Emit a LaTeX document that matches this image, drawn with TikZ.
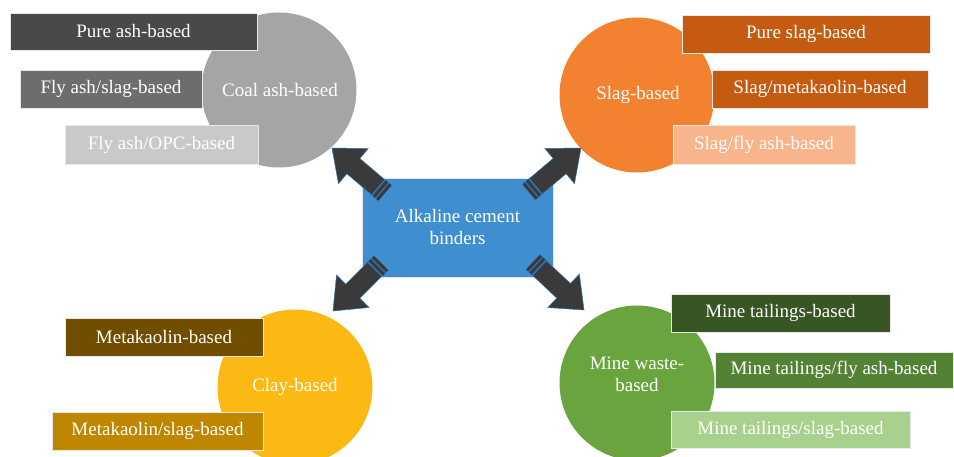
\documentclass[tikz,border=0pt]{standalone}
\usepackage{fontspec}
\setmainfont{Liberation Serif}
\usetikzlibrary{calc}
\definecolor{coalc}{HTML}{A5A5A5}
\definecolor{coalA}{HTML}{494949}
\definecolor{coalB}{HTML}{6D6D6D}
\definecolor{coalC}{HTML}{C9C9C9}
\definecolor{slagc}{HTML}{F28130}
\definecolor{slagA}{HTML}{C55A11}
\definecolor{slagC}{HTML}{F8B48A}
\definecolor{clayc}{HTML}{FDB913}
\definecolor{clayA}{HTML}{714D00}
\definecolor{clayB}{HTML}{BF8600}
\definecolor{minec}{HTML}{6AA43F}
\definecolor{mineA}{HTML}{375623}
\definecolor{mineB}{HTML}{548235}
\definecolor{mineC}{HTML}{A9D18E}
\definecolor{hubblue}{HTML}{3E8ED0}
\definecolor{arrowgray}{HTML}{3A3A3A}
\definecolor{arrowedge}{HTML}{2E75B6}
\tikzset{
  lbl/.style={rectangle, draw=white!82!gray, line width=0.6pt, text=white,
    inner sep=0pt, font=\fontsize{19}{22}\selectfont},
  hub/.style={circle, inner sep=0pt, minimum size=155pt, text=white, align=center,
    font=\fontsize{19}{22}\selectfont},
  arrowbody/.style={fill=arrowgray, draw=arrowedge, line width=0.5pt},
  gapfill/.style={fill=arrowedge},
}
\newcommand{\fatarrow}[2]{%
  \coordinate (sa0) at (#1);
  \coordinate (sa1) at (#2);
  \coordinate (hb) at ($(sa1)!28pt!(sa0)$);
  \coordinate (s0) at ($(sa0)!9pt!(sa1)$);
  \coordinate (g1) at ($(sa0)!3pt!(sa1)$);
  \coordinate (g2) at ($(sa0)!4.5pt!(sa1)$);
  \coordinate (g3) at ($(sa0)!7.5pt!(sa1)$);
  \fill[gapfill] ($(sa0)!10.5pt!90:(sa1)$) -- ($(s0)!10.5pt!90:(sa1)$) --
    ($(s0)!10.5pt!-90:(sa1)$) -- ($(sa0)!10.5pt!-90:(sa1)$) -- cycle;
  \fill[arrowgray] ($(sa0)!10pt!90:(sa1)$) -- ($(g1)!10pt!90:(sa1)$) --
    ($(g1)!10pt!-90:(sa1)$) -- ($(sa0)!10pt!-90:(sa1)$) -- cycle;
  \fill[arrowgray] ($(g2)!10pt!90:(sa1)$) -- ($(g3)!10pt!90:(sa1)$) --
    ($(g3)!10pt!-90:(sa1)$) -- ($(g2)!10pt!-90:(sa1)$) -- cycle;
  \filldraw[arrowbody] ($(s0)!10pt!90:(sa1)$) -- ($(hb)!10pt!90:(sa1)$) --
    ($(hb)!23pt!90:(sa1)$) -- (sa1) -- ($(hb)!23pt!-90:(sa1)$) --
    ($(hb)!10pt!-90:(sa1)$) -- ($(s0)!10pt!-90:(sa1)$) -- cycle;
}
\begin{document}
\begin{tikzpicture}[x=1pt, y=-1pt]
\useasboundingbox (0,0) rectangle (954,457);
\fill[white] (0,0) rectangle (954,457);
% hub circles
\node[hub, fill=coalc] (coal) at (279,90) {};
\node[hub, fill=slagc] (slag) at (637,95) {};
\node[hub, fill=clayc] (clay) at (295,387) {};
\node[hub, fill=minec] (mine) at (637,383) {};
\node[text=white, font=\fontsize{19}{22}\selectfont] (coalt) at (280,90) {Coal ash-based};
\node[text=white, font=\fontsize{19}{22}\selectfont] (slagt) at (638,95) {Slag-based};
\node[text=white, font=\fontsize{19}{22}\selectfont] (clayt) at (295,387) {Clay-based};
\node[text=white, font=\fontsize{19}{22}\selectfont, align=center] (minet) at (637,374) {Mine waste-\\based};
% coal ash boxes
\node[lbl, fill=coalA, minimum width=247pt, minimum height=37pt] (c1) at (133.5,31.5) {Pure ash-based};
\node[lbl, fill=coalB, minimum width=182pt, minimum height=38pt] (c2) at (111,89) {Fly ash/slag-based};
\node[lbl, fill=coalC, minimum width=193pt, minimum height=39pt] (c3) at (161.5,144.5) {Fly ash/OPC-based};
% slag boxes
\node[lbl, fill=slagA, minimum width=248pt, minimum height=38pt] (s1) at (806,34) {Pure slag-based};
\node[lbl, fill=slagA, minimum width=216pt, minimum height=38pt] (s2) at (820,89) {Slag/metakaolin-based};
\node[lbl, fill=slagC, minimum width=182pt, minimum height=39pt] (s3) at (764,144.5) {Slag/fly ash-based};
% clay boxes
\node[lbl, fill=clayA, minimum width=198pt, minimum height=38pt] (k1) at (164,337) {Metakaolin-based};
\node[lbl, fill=clayB, minimum width=211pt, minimum height=38pt] (k2) at (157.5,431) {Metakaolin/slag-based};
% mine boxes
\node[lbl, fill=mineA, minimum width=219pt, minimum height=38pt] (m1) at (780.5,313) {Mine tailings-based};
\node[lbl, fill=mineB, minimum width=238pt, minimum height=36pt] (m2) at (834,370) {Mine tailings/fly ash-based};
\node[lbl, fill=mineC, minimum width=239pt, minimum height=37pt] (m3) at (790.5,429.5) {Mine tailings/slag-based};
% centre
\node[rectangle, fill=hubblue, draw=white!80!gray, line width=0.6pt, minimum width=191pt,
  minimum height=99pt, text=white, align=center, font=\fontsize{19}{22}\selectfont]
  (center) at (457.5,227.5) {Alkaline cement\\binders};
% arrow end points
\coordinate (ulT) at (385,193); \coordinate (ulH) at (332,148);
\coordinate (urT) at (529,192); \coordinate (urH) at (581,148);
\coordinate (llT) at (381,263); \coordinate (llH) at (333,311);
\coordinate (lrT) at (533,262); \coordinate (lrH) at (584,310);
\fatarrow{ulT}{ulH}
\fatarrow{urT}{urH}
\fatarrow{llT}{llH}
\fatarrow{lrT}{lrH}
\end{tikzpicture}
\end{document}
